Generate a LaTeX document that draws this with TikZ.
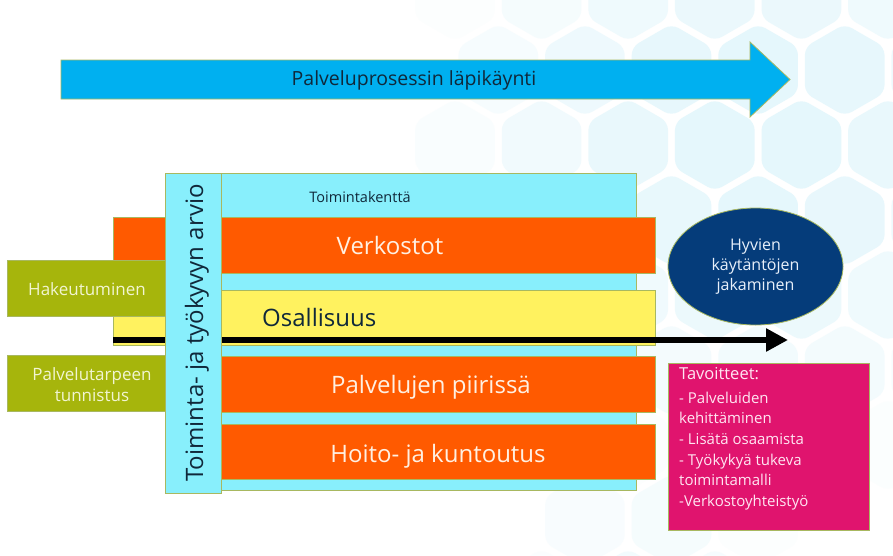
\documentclass[tikz,border=0pt]{standalone}
\usepackage{fontspec}
\setmainfont{Open Sans}
\usetikzlibrary{shapes.geometric,arrows.meta}
\definecolor{arrowblue}{HTML}{00B0F0}
\definecolor{fieldcyan}{HTML}{88EFFC}
\definecolor{barorange}{HTML}{FF5A00}
\definecolor{baryellow}{HTML}{FFF25F}
\definecolor{boxolive}{HTML}{A6B50C}
\definecolor{ellnavy}{HTML}{053C7A}
\definecolor{goalmag}{HTML}{E0146E}
\definecolor{edgecol}{HTML}{A8B860}
\definecolor{hexcol}{HTML}{E5F7FC}
\definecolor{darktext}{HTML}{10283A}
\definecolor{creamtext}{HTML}{FFF0E2}
\definecolor{olivetext}{HTML}{F2F5D2}
\definecolor{pinktext}{HTML}{FFE6F2}
\definecolor{pale}{HTML}{E8F0FA}
\begin{document}
\begin{tikzpicture}[x=1pt,y=-1pt,
  blk/.style={draw=edgecol, line width=0.8pt, inner sep=0pt, outer sep=0pt, anchor=north west},
  captext/.style={inner sep=0pt, text height=#1, text depth=0pt},
  bigtext/.style={captext=17.1pt, font=\fontsize{24}{28}\selectfont},
  smalltext/.style={captext=12.1pt, font=\fontsize{17}{21}\selectfont}]
\useasboundingbox[fill=white] (0,0) rectangle (893,555);
% background honeycomb
\foreach \j in {0,...,8}{
  \foreach \i in {0,...,6}{
    \pgfmathsetmacro\cx{455+\i*86.6+mod(\j,2)*43.3}
    \pgfmathsetmacro\cy{-5+\j*75}
    \pgfmathsetmacro\opa{1.3-veclen(\cx-760,\cy-140)/280}
    \pgfmathsetmacro\opb{0.6-veclen(\cx-650,\cy-570)/240}
    \pgfmathsetmacro\op{max(0,min(1,max(\opa,\opb)))}
    \ifdim\op pt>0.02pt
      \fill[hexcol, fill opacity=\op, rounded corners=8pt] (\cx,\cy) +(30:46) -- +(90:46) -- +(150:46) -- +(210:46) -- +(270:46) -- +(330:46) -- cycle;
    \fi
  }
}
% process arrow
\fill[arrowblue, draw=edgecol, line width=0.8pt] (61,60) -- (750,60) -- (750,42) -- (790,79.5) -- (750,117) -- (750,99) -- (61,99) -- cycle;
\node[captext=13.9pt, font=\fontsize{19.5}{23}\selectfont, text=darktext] (proc) at (414,78.5) {Palveluprosessin läpikäynti};
% field
\node[blk, fill=fieldcyan, minimum width=471pt, minimum height=317pt] (field) at (165,173) {};
\node[captext=10.4pt, font=\fontsize{14.5}{17}\selectfont, text=darktext] (fieldlbl) at (360,197.5) {Toimintakenttä};
% bars
\node[blk, fill=barorange, minimum width=542pt, minimum height=56pt] (verk) at (113,217) {};
\node[bigtext, text=creamtext] (verklbl) at (390,245.5) {Verkostot};
\node[blk, fill=baryellow, minimum width=542pt, minimum height=55pt] (osal) at (113,290) {};
\node[bigtext, text=darktext, anchor=west] (osallbl) at (262,318) {Osallisuus};
\node[blk, fill=barorange, minimum width=434pt, minimum height=56pt] (palv) at (221,356) {};
\node[bigtext, text=creamtext] (palvlbl) at (431,385) {Palvelujen piirissä};
\node[blk, fill=barorange, minimum width=434pt, minimum height=55pt] (hoito) at (221,424) {};
\node[bigtext, text=creamtext] (hoitolbl) at (438,453.5) {Hoito- ja kuntoutus};
% black arrow
\coordinate (lstart) at (113,340);
\coordinate (lend) at (788,340);
\draw[line width=6.5pt, -{Triangle[length=22pt,width=22pt]}] (lstart) -- (lend);
% vertical strip
\node[blk, fill=fieldcyan, minimum width=56pt, minimum height=320pt] (strip) at (165,173) {};
\node[bigtext, text=darktext, rotate=90] (striplbl) at (194.5,333) {Toiminta- ja työkyvyn arvio};
% left boxes
\node[blk, fill=boxolive, minimum width=158pt, minimum height=56pt] (hak) at (7,260) {};
\node[smalltext, text=olivetext] (haklbl) at (87,289) {Hakeutuminen};
\node[blk, fill=boxolive, minimum width=158pt, minimum height=56pt] (tarve) at (7,355) {};
\node[inner sep=0pt, align=center, font=\fontsize{17}{21}\selectfont, text=olivetext] (tarvelbl) at (92,385) {Palvelutarpeen\\tunnistus};
% ellipse
\node[ellipse, draw=edgecol, line width=0.8pt, fill=ellnavy, minimum width=175pt, minimum height=117pt, inner sep=0pt, align=center, font=\fontsize{16}{20}\selectfont, text=pale] (good) at (755.5,266.5) {Hyvien\\käytäntöjen\\jakaminen};
% goals
\node[blk, fill=goalmag, minimum width=201pt, minimum height=167pt] (goals) at (668,363) {};
\node[inner sep=0pt, anchor=north west, align=left, font=\fontsize{15}{20.7}\selectfont, text=pinktext] (goalslbl) at (679,367) {{\fontsize{16.5}{20}\selectfont Tavoitteet:}\\[3pt]- Palveluiden\\kehittäminen\\- Lisätä osaamista\\- Työkykyä tukeva\\toimintamalli\\-Verkostoyhteistyö};
\end{tikzpicture}
\end{document}
